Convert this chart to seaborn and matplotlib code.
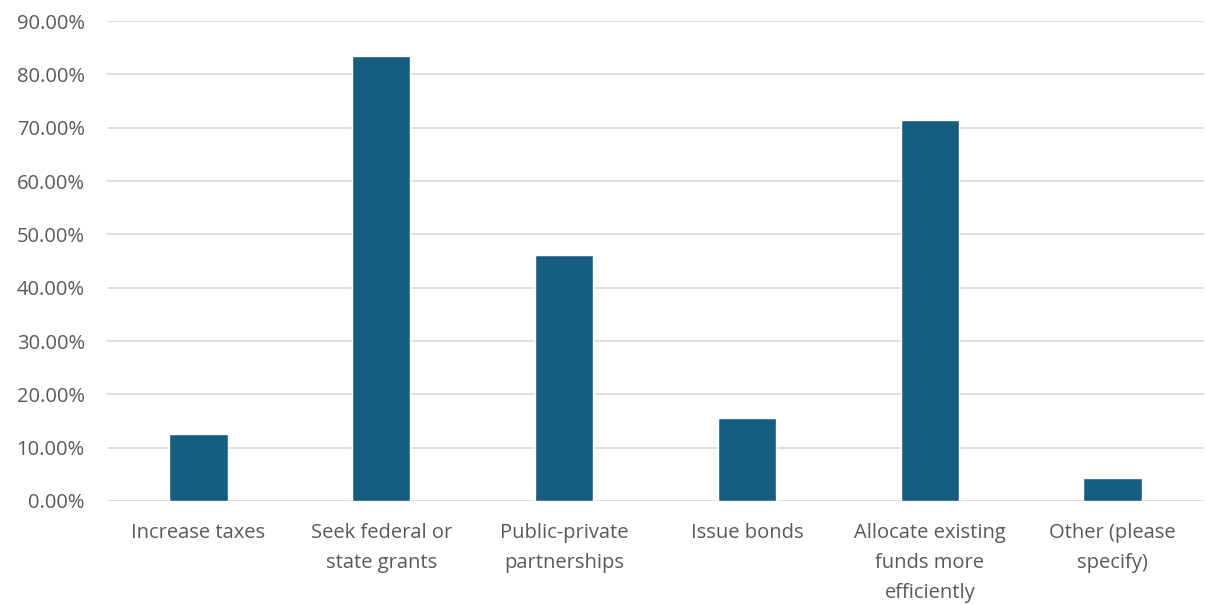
import numpy as np
import pandas as pd
import matplotlib
matplotlib.use("Agg")
import matplotlib.pyplot as plt
from matplotlib.ticker import FuncFormatter
import seaborn as sns

# data
categories = ["Increase taxes", "Seek federal or\nstate grants", "Public-private\npartnerships",
              "Issue bonds", "Allocate existing\nfunds more\nefficiently", "Other (please\nspecify)"]
shares = [12.6, 83.5, 46.2, 15.6, 71.5, 4.3]
yticks = np.arange(0, 91, 10)

df = pd.DataFrame({"option": categories, "share": shares})

sns.set_theme(style="white")
plt.rcParams['font.family'] = ['Open Sans', 'DejaVu Sans']

fig = plt.figure(figsize=(12.07, 6.05), dpi=100)
ax = fig.add_axes([0.0886, 0.172, 0.909, 0.793])

sns.barplot(data=df, x="option", y="share", color="#165E80", width=0.32,
            saturation=1, ax=ax, zorder=3)

ax.set_ylim(0, 90)
ax.set_yticks(yticks)
ax.yaxis.set_major_formatter(FuncFormatter(lambda v, p: f"{v:.2f}%"))
ax.grid(axis="y", color="#D9D9D9", linewidth=1.2, zorder=0)
for s in ax.spines.values():
    s.set_visible(False)
ax.set_xlabel("")
ax.set_ylabel("")
ax.tick_params(axis="both", length=0, colors="#595959", labelsize=14.5)
ax.tick_params(axis="y", pad=16)
ax.tick_params(axis="x", pad=16)
for lab in ax.get_xticklabels():
    lab.set_linespacing(1.65)
ax.set_xlim(-0.5, 5.5)

fig.savefig("out.png", dpi=100)
